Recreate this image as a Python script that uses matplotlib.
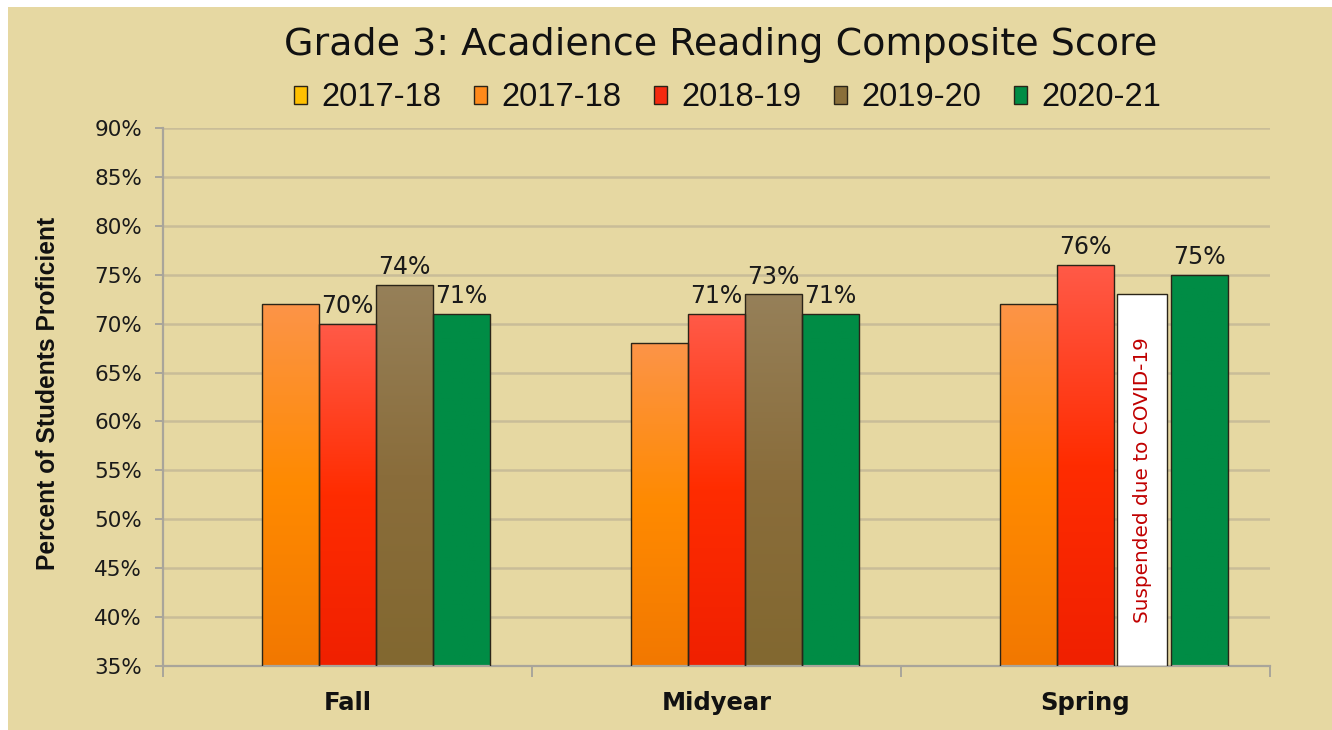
import numpy as np
import matplotlib
matplotlib.use("Agg")
import matplotlib.pyplot as plt
from matplotlib.patches import Patch, Rectangle
from matplotlib.colors import LinearSegmentedColormap

# ---------------- data ----------------
categories = ["Fall", "Midyear", "Spring"]
series_names = ["2017-18", "2017-18", "2018-19", "2019-20", "2020-21"]
yellow_1718 = [np.nan, np.nan, np.nan]
orange_1718 = [72, 68, 72]
red_1819 = [70, 71, 76]
brown_1920 = [74, 73, np.nan]
green_2021 = [71, 71, 75]
show_labels = [False, False, True, True, True]
suspended_category = "Spring"
suspended_series = 3
suspended_box_top = 73
suspended_text = "Suspended due to COVID-19"
y_ticks = [35, 40, 45, 50, 55, 60, 65, 70, 75, 80, 85, 90]

values = [yellow_1718, orange_1718, red_1819, brown_1920, green_2021]
# gradient colors (top, middle, bottom)
grads = [
    ["#FFD24A", "#FFC000", "#F2B000"],
    ["#FC9448", "#FF8A00", "#F27800"],
    ["#FF5A48", "#FF2C00", "#F02000"],
    ["#968059", "#8A6D3B", "#826830"],
    ["#008C45", "#008C45", "#008C45"],
]
legend_colors = ["#FFC000", "#FF8A1A", "#F52A10", "#8A6F3A", "#008C45"]

BG = "#E6D8A2"
fig = plt.figure(figsize=(13.32, 7.30), dpi=100, facecolor="white")
fig.patches.append(Rectangle((8 / 1332, 0), 1 - 8 / 1332, 1 - 7 / 730,
                             transform=fig.transFigure, facecolor=BG,
                             edgecolor="none", zorder=-10))

ax = fig.add_axes([163 / 1332, (730 - 666) / 730, (1270 - 163) / 1332, (666 - 128) / 730])
ax.patch.set_alpha(0)

n = len(values)
group_w = 0.771
w = group_w / n
x = np.arange(len(categories))

ax.set_ylim(35, 90)
ax.set_xlim(-0.5, 2.5)

for i, vals in enumerate(values):
    offs = x + (i - (n - 1) / 2) * w
    cmap = LinearSegmentedColormap.from_list(f"g{i}", grads[i][::-1])
    bars = ax.bar(offs, vals, width=w, bottom=0, facecolor="none",
                  edgecolor="#2A2418", linewidth=1.0, zorder=3)
    grad = np.linspace(0, 1, 256).reshape(-1, 1)
    for b, v in zip(bars, vals):
        if np.isnan(v):
            continue
        x0 = b.get_x()
        x1 = x0 + b.get_width()
        im = ax.imshow(grad, extent=[x0, x1, 35, v], origin="lower", cmap=cmap,
                       aspect="auto", zorder=2)
        clip = Rectangle((x0, 0), x1 - x0, v, transform=ax.transData)
        im.set_clip_path(clip)
        if show_labels[i]:
            ax.annotate(f"{v:.0f}%", (b.get_x() + b.get_width() / 2, v),
                        xytext=(0, 4), textcoords="offset points",
                        ha="center", va="bottom", fontsize=17,
                        family="DejaVu Sans", color="#1A1A1A", zorder=5)

# suspended placeholder box
ci = categories.index(suspended_category)
sx = x[ci] + (suspended_series - (n - 1) / 2) * w
ax.bar(sx, suspended_box_top - 35, width=w * 0.88, bottom=35, facecolor="white",
       edgecolor="#2A2418", linewidth=1.0, zorder=3)
ax.text(sx, 54.0, suspended_text, rotation=90, ha="center", va="center",
        fontsize=14.4, color="#C00000", family="DejaVu Sans", zorder=5)

# axes styling
ax.set_xlim(-0.5, 2.5)
ax.set_ylim(35, 90)
ax.set_yticks(y_ticks)
ax.set_yticklabels([f"{t}%" for t in y_ticks], fontsize=15.5, family="DejaVu Sans",
                   color="#1A1A1A")
ax.yaxis.grid(True, color="#C9BD98", linewidth=1.8, zorder=0)
ax.set_axisbelow(True)
for s in ["top", "right"]:
    ax.spines[s].set_visible(False)
ax.spines["left"].set_color("#A9A59A")
ax.spines["bottom"].set_color("#A9A59A")
ax.spines["left"].set_linewidth(1.6)
ax.spines["bottom"].set_linewidth(1.6)
ax.tick_params(axis="y", length=6, color="#A9A59A", width=1.4, pad=9)

ax.set_xticks(x)
ax.set_xticklabels(categories, fontsize=17.5, fontweight="bold",
                   family="DejaVu Sans", color="#111111")
ax.tick_params(axis="x", which="major", length=0, pad=18)
ax.set_xticks([-0.5, 0.5, 1.5, 2.5], minor=True)
ax.tick_params(axis="x", which="minor", length=8, color="#A9A59A", width=1.4)

ax.set_ylabel("Percent of Students Proficient", fontsize=17.7, fontweight="bold",
              family=["Liberation Sans", "DejaVu Sans"], color="#111111")
ax.yaxis.set_label_coords(-0.093, 0.507)

fig.text(0.541, 1 - 45 / 730, "Grade 3: Acadience Reading Composite Score",
         ha="center", va="center", fontsize=27.4, family="DejaVu Sans",
         color="#111111")

handles = [Patch(facecolor=c, edgecolor="#2A2418", linewidth=1.0) for c in legend_colors]
leg = fig.legend(handles, series_names, loc="center", bbox_to_anchor=(0.546, 1 - 98 / 730),
                 ncol=5, frameon=False,
                 prop={"family": ["Liberation Sans", "DejaVu Sans"], "size": 23.5},
                 handlelength=0.42, handleheight=0.5, handletextpad=0.42,
                 columnspacing=1.0, borderpad=0.0)
for t in leg.get_texts():
    t.set_color("#111111")

fig.savefig("out.png", dpi=100, facecolor="white")
